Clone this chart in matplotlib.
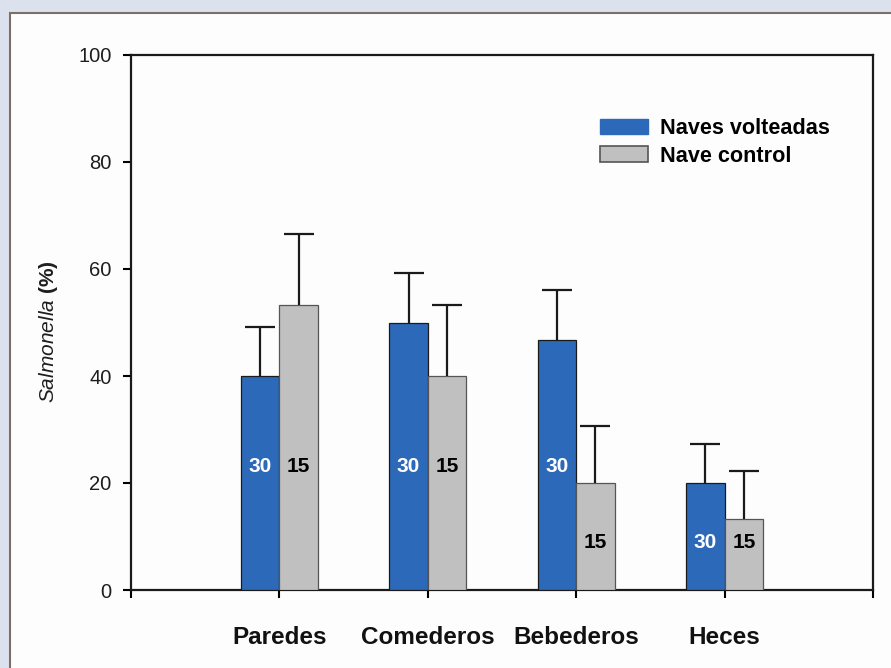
import matplotlib
matplotlib.use("Agg")
import matplotlib.pyplot as plt
from matplotlib.patches import Rectangle, Patch
import numpy as np

plt.rcParams['font.family'] = ['Liberation Sans', 'DejaVu Sans']
plt.rcParams['mathtext.fontset'] = 'custom'
plt.rcParams['mathtext.rm'] = 'Liberation Sans'
plt.rcParams['mathtext.it'] = 'Liberation Sans:italic'
plt.rcParams['mathtext.bf'] = 'Liberation Sans:bold'

# ---- data ----
categories = ["Paredes", "Comederos", "Bebederos", "Heces"]
series_names = ["Naves volteadas", "Nave control"]
volteadas = [40.0, 50.0, 46.7, 20.0]
volteadas_err = [9.2, 9.3, 9.3, 7.3]
control = [53.3, 40.0, 20.0, 13.3]
control_err = [13.3, 13.2, 10.7, 9.0]
n_volteadas = ["30", "30", "30", "30"]
n_control = ["15", "15", "15", "15"]
yticks = [0, 20, 40, 60, 80, 100]

blue = "#2d69b9"
gray = "#c0c0c0"

fig = plt.figure(figsize=(8.91, 6.68), dpi=100)
fig.patch.set_facecolor("#dbe2ee")
panel = Rectangle((10 / 891, -0.02), 1.05, 1 - 13 / 668 + 0.02,
                  transform=fig.transFigure, facecolor="#fdfdfd",
                  edgecolor="#7a7068", linewidth=1.5, zorder=-10)
fig.patches.append(panel)

ax = fig.add_axes([131 / 891, 1 - 590 / 668, (873 - 131) / 891, (590 - 55) / 668])
ax.set_facecolor("#fdfdfd")

x = np.arange(1, len(categories) + 1)
w = 0.26
ekw = dict(elinewidth=1.6, capthick=1.6, ecolor="#1a1a1a")
b1 = ax.bar(x - w / 2, volteadas, w, color=blue, edgecolor="#1a1a1a", linewidth=0.9,
            yerr=[np.zeros(len(volteadas)), volteadas_err], capsize=11, error_kw=ekw,
            label=series_names[0], zorder=3)
b2 = ax.bar(x + w / 2, control, w, color=gray, edgecolor="#555555", linewidth=0.9,
            yerr=[np.zeros(len(control)), control_err], capsize=11, error_kw=ekw,
            label=series_names[1], zorder=3)
# hide the lower caps (errors are drawn upward only)
for bc in (b1, b2):
    caps = bc.errorbar.lines[1]
    if len(caps) >= 2:
        caps[0].set_visible(False)

for xi, v, lab in zip(x, volteadas, n_volteadas):
    yy = 23 if v >= 30 else 8.8
    ax.text(xi - w / 2, yy, lab, ha="center", va="center", color="white",
            fontsize=15, fontweight="bold", zorder=5)
for xi, v, lab in zip(x, control, n_control):
    yy = 23 if v >= 30 else 8.8
    ax.text(xi + w / 2, yy, lab, ha="center", va="center", color="black",
            fontsize=15, fontweight="bold", zorder=5)

ax.set_xlim(0, 5)
ax.set_ylim(0, 100)
ax.set_yticks(yticks)
ax.set_yticklabels([str(t) for t in yticks], fontsize=14.5, color="#1e1e1e")
ax.set_xticks([0, 1, 2, 3, 4, 5])
ax.set_xticklabels([""] + categories + [""], fontsize=17.5, fontweight="bold",
                   color="#111111")
ax.tick_params(axis="y", direction="out", length=6, width=1.5, pad=8)
ax.tick_params(axis="x", direction="out", length=6, width=1.5, pad=20)
for s in ax.spines.values():
    s.set_linewidth(1.6)
    s.set_color("#1a1a1a")

fig.text(48 / 891, 1 - 332 / 668, r"$\mathit{Salmonella}$ $\mathbf{(\%)}$",
         rotation=90, ha="center", va="center", fontsize=15, color="#1e1e1e")

handles = [Patch(facecolor=blue, edgecolor=blue),
           Patch(facecolor=gray, edgecolor="#555555", linewidth=1.2)]
leg = ax.legend(handles, series_names, loc="upper left",
                bbox_to_anchor=((600 - 131) / 742, (590 - 118) / 535),
                frameon=False, prop={"weight": "bold", "size": 15.6},
                handlelength=2.2, handleheight=0.75, handletextpad=0.55,
                labelspacing=0.3, borderpad=0, borderaxespad=0)

fig.savefig("out.png", dpi=100, facecolor=fig.get_facecolor())
